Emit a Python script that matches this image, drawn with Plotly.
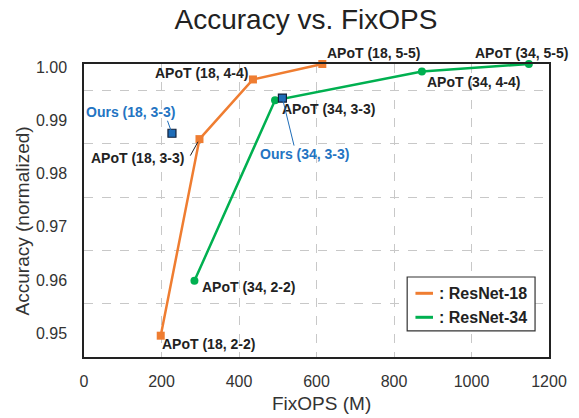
import plotly.graph_objects as go

# ---- data ----
r18_x = [198, 298, 436, 615]
r18_y = [0.9490, 0.9859, 0.9971, 1.0000]
r18_labels = ["APoT (18, 2-2)", "APoT (18, 3-3)", "APoT (18, 4-4)", "APoT (18, 5-5)"]

r34_x = [285, 493, 872, 1148]
r34_y = [0.9593, 0.9932, 0.9986, 1.0000]
r34_labels = ["APoT (34, 2-2)", "APoT (34, 3-3)", "APoT (34, 4-4)", "APoT (34, 5-5)"]

ours_x = [227, 512]
ours_y = [0.9870, 0.9936]
ours_labels = ["Ours (18, 3-3)", "Ours (34, 3-3)"]

x_ticks = [0, 200, 400, 600, 800, 1000, 1200]
y_ticks = [0.95, 0.96, 0.97, 0.98, 0.99, 1.00]
y_tick_text = ["0.95", "0.96", "0.97", "0.98", "0.99", "1.00"]

ORANGE = "#EF7D31"
GREEN = "#00B050"
BLUE = "#1F6DB8"
BLUE_TXT = "#2474C2"
DARK = "#222222"
FONT = "Liberation Sans, Arial"

# the page adds an 8px body margin; compensate
PAGE_OFF = 8
W, H = 579 - PAGE_OFF, 418 - PAGE_OFF

# label placement (pixel offsets of text centre from point; leader tail offsets)
r18_off = [(48, 8), (-62, 19), (-51, -6), (51, -11)]
r18_lead = [None, (-10, 18), None, None]
r34_off = [(54, 6), (53, 9), (52, 11), (-7, -11)]
r34_lead = [None, None, None, None]
ours_off = [(-41, -21), (22, 56)]
ours_lead = [(-5, -14), (12, 49)]

fig = go.Figure()
fig.add_trace(go.Scatter(x=r18_x, y=r18_y, mode="lines+markers",
                         line=dict(color=ORANGE, width=2.5),
                         marker=dict(symbol="square", size=8, color=ORANGE),
                         cliponaxis=False, showlegend=False))
fig.add_trace(go.Scatter(x=r34_x, y=r34_y, mode="lines+markers",
                         line=dict(color=GREEN, width=2.5),
                         marker=dict(symbol="circle", size=8, color=GREEN),
                         cliponaxis=False, showlegend=False))
fig.add_trace(go.Scatter(x=ours_x, y=ours_y, mode="markers",
                         marker=dict(symbol="square", size=8, color=BLUE,
                                     line=dict(color="#10203a", width=1.2)),
                         cliponaxis=False, showlegend=False))

annots = []
def add_labels(xs, ys, labels, offs, leads, color, lcolor):
    for x, y, t, (dx, dy), lead in zip(xs, ys, labels, offs, leads):
        annots.append(dict(x=x, y=y, xref="x", yref="y", text="<b>%s</b>" % t,
                           showarrow=False, xshift=dx, yshift=-dy,
                           xanchor="center", yanchor="middle",
                           font=dict(family=FONT, size=14, color=color)))
        if lead is not None:
            annots.append(dict(x=x, y=y, xref="x", yref="y", text="",
                               showarrow=True, arrowhead=0, arrowwidth=1,
                               arrowcolor=lcolor, ax=lead[0], ay=lead[1],
                               standoff=3))

add_labels(r18_x, r18_y, r18_labels, r18_off, r18_lead, DARK, DARK)
add_labels(r34_x, r34_y, r34_labels, r34_off, r34_lead, DARK, DARK)
add_labels(ours_x, ours_y, ours_labels, ours_off, ours_lead, BLUE_TXT, BLUE)

# axis titles
annots.append(dict(x=0.5117, y=-0.16, xref="paper", yref="paper", text="FixOPS (M)",
                   showarrow=False, xanchor="center", yanchor="middle",
                   font=dict(family=FONT, size=19, color="#333333")))
annots.append(dict(x=-0.132, y=0.465, xref="paper", yref="paper", text="Accuracy (normalized)",
                   showarrow=False, xanchor="center", yanchor="middle", textangle=-90,
                   font=dict(family=FONT, size=19, color="#333333")))

# manual legend
L_x0, L_x1, L_y0, L_y1 = 0.695, 0.970, 0.089, 0.273
shapes = [dict(type="rect", xref="paper", yref="paper", x0=L_x0, x1=L_x1, y0=L_y0, y1=L_y1,
               line=dict(color="#333333", width=1.2), fillcolor="white", layer="above")]
for yy, col, name in [(0.2174, ORANGE, ": ResNet-18"), (0.1355, GREEN, ": ResNet-34")]:
    shapes.append(dict(type="line", xref="paper", yref="paper", x0=0.7128, x1=0.7505,
                       y0=yy, y1=yy, line=dict(color=col, width=3), layer="above"))
    annots.append(dict(x=0.759, y=yy, xref="paper", yref="paper", text="<b>%s</b>" % name,
                       showarrow=False, xanchor="left", yanchor="middle",
                       font=dict(family=FONT, size=16, color=DARK)))

fig.update_layout(
    width=W, height=H,
    margin=dict(l=84 - PAGE_OFF, r=26, t=64 - PAGE_OFF, b=61),
    paper_bgcolor="white", plot_bgcolor="white",
    title=dict(text="Accuracy vs. FixOPS", x=(306 - PAGE_OFF) / W, xanchor="center",
               y=1 - (19 - PAGE_OFF) / H, yanchor="middle",
               font=dict(family=FONT, size=28, color="#222222")),
    annotations=annots, shapes=shapes,
    showlegend=False,
)
fig.update_xaxes(range=[0, 1200], tickvals=x_ticks, showgrid=True,
                 gridcolor="#c8c8c8", griddash="dash", gridwidth=1,
                 zeroline=False, showline=True, mirror=True,
                 linecolor="#222222", linewidth=1.5, ticks="",
                 ticklabelstandoff=9,
                 tickfont=dict(family=FONT, size=16, color="#333333"))
fig.update_yaxes(range=[0.945, 1.0], tickvals=y_ticks, ticktext=y_tick_text,
                 showgrid=False, zeroline=False, showline=True, mirror=True,
                 linecolor="#222222", linewidth=1.5, ticks="",
                 ticklabelstandoff=12, ticklabelshift=3,
                 minor=dict(tick0=0.955, dtick=0.01, showgrid=True,
                            gridcolor="#c8c8c8", griddash="dash", gridwidth=1, ticks=""),
                 tickfont=dict(family=FONT, size=16, color="#333333"))

fig.write_html("out.html")
